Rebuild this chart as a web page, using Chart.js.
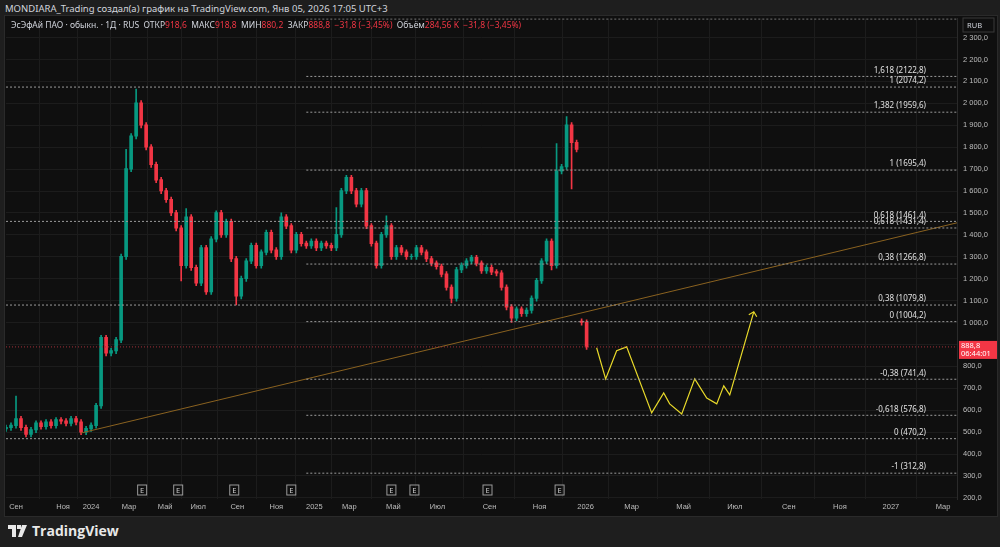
<!DOCTYPE html>
<html>
<head>
<meta charset="utf-8">
<script src="https://cdn.jsdelivr.net/npm/chart.js@4"></script>
<style>
  body { margin: 0; background: #1e1e1e; width: 1000px; height: 547px; overflow: hidden; font-family: "Noto Sans", "DejaVu Sans", sans-serif; }
  #top { position: absolute; left: 5px; top: 2px; font-size: 9.5px; color: #d1d4dc; }
  #pane { position: absolute; left: 4px; top: 15px; width: 992px; height: 500px; background: #0f0f0f; border: 1px solid #2a2a2a; overflow: hidden; }
  #legend { position: absolute; left: 6px; top: 3px; font-size: 8.5px; color: #d1d4dc; z-index: 2; white-space: nowrap; }
  #legend .r { color: #f23645; }
  #wrap { position: absolute; left: 0; top: -8px; width: 992px; height: 508px; }
  #logo { position: absolute; left: 8px; top: 521px; color: #e8e8e8; font-size: 14px; font-weight: bold; font-family: "Open Sans", sans-serif; display: flex; align-items: center; gap: 4px; }
</style>
</head>
<body>
<div id="top">MONDIARA_Trading создал(а) график на TradingView.com, Янв 05, 2026 17:05 UTC+3</div>
<div id="pane">
  <div id="legend">ЭсЭфАй ПАО · обыкн. · 1Д · RUS &nbsp;ОТКР<span class="r">918,6</span> &nbsp;МАКС<span class="r">918,8</span> &nbsp;МИН<span class="r">880,2</span> &nbsp;ЗАКР<span class="r">888,8 &nbsp;−31,8 (−3,45%)</span> &nbsp;Объём<span class="r">284,56 K &nbsp;−31,8 (−3,45%)</span></div>
  <div id="wrap"><canvas id="c"></canvas></div>
</div>
<div id="logo"><svg width="20" height="12" viewBox="0 0 20 12"><path d="M0 0h8v12H4V4H0z M9 0h4v4H9z M14 0h5l-5 12h-4z" fill="#e8e8e8"/></svg>TradingView</div>
<script>
// closes per bar slot (one slot ~ one week)
const closes = [520, 530, 560, 520, 490, 510, 540, 525, 545, 530, 555, 550, 540, 560, 545, 500, 515, 530, 620, 930,
  860, 870, 920, 1300, 1700, 1850, 2000, 1900, 1800, 1720, 1650, 1600, 1560, 1500, 1430, 1260, 1480, 1250, 1180, 1340,
  1140, 1380, 1500, 1400, 1460, 1290, 1120, 1200, 1280, 1350, 1260, 1320, 1410, 1330, 1300, 1480, 1440, 1330, 1400, 1360,
  1350, 1370, 1340, 1360, 1350, 1340, 1400, 1600, 1660, 1600, 1540, 1600, 1440, 1360, 1260, 1400, 1440, 1300, 1340, 1320,
  1300, 1300, 1340, 1320, 1290, 1270, 1255, 1220, 1160, 1110, 1240, 1260, 1280, 1295, 1270, 1236, 1250, 1230, 1225, 1160,
  1070, 1020, 1060, 1040, 1055, 1110, 1190, 1280, 1370, 1260, 1690, 1710, 1900, 1820, 1790, 1000, 889];
const gapOpens = { 0: 515, 115: 1005 };
const highs = { 2: 665, 24: 1790, 26: 2065, 36: 1520, 42: 1510, 55: 1500, 66: 1525, 76: 1487, 110: 1816, 112: 1940 };
const lows = { 35: 1190, 46: 1080, 89: 1090, 101: 1000, 109: 1240, 113: 1610 };

const fibValues = [2385, 2122.8, 2074.2, 1959.6, 1695.4, 1461.4, 1431.4, 1266.8, 1079.8, 1004.2, 741.4, 576.8, 470.2, 312.8];
const fibLabels = ['', '1,618 (2122,8)', '1 (2074,2)', '1,382 (1959,6)', '1 (1695,4)', '0,618 (1461,4)', '0,618 (1431,4)',
  '0,38 (1266,8)', '0,38 (1079,8)', '0 (1004,2)', '-0,38 (741,4)', '-0,618 (576,8)', '0 (470,2)', '-1 (312,8)'];
const fibStart = [60, 60, 0, 60, 60, 0, 60, 60, 0, 60, 60, 60, 0, 60];

const trendX = [15, 190];
const trendY = [496, 1455];
const pathX = [118, 119.8, 122, 124, 129, 131.4, 132.6, 135, 137.6, 140, 142, 143.4, 144.6, 149.4];
const pathY = [885, 743, 871, 889, 588, 679, 629, 583, 743, 656, 629, 711, 670, 1049];

const lastPrice = 888.8;
const priceTicks = [200, 300, 400, 500, 600, 700, 800, 900, 1000, 1100, 1200, 1300, 1400, 1500, 1600, 1700, 1800, 1900, 2000, 2100, 2200, 2300];
const earnings = [27.2, 34.4, 45.6, 57, 77, 81.6, 96.2, 110.6];
const tickPos = [2, 11.4, 17, 24.6, 31.8, 38.4, 46.2, 54, 61.6, 68.6, 77.4, 86.2, 96.6, 106.6, 115.8, 125, 135.4, 145.6, 156.4, 166.6, 176.8, 187.2];
const tickText = ['Сен', 'Ноя', '2024', 'Мар', 'Май', 'Июл', 'Сен', 'Ноя', '2025', 'Мар', 'Май', 'Июл', 'Сен', 'Ноя', '2026', 'Мар', 'Май', 'Июл', 'Сен', 'Ноя', '2027', 'Мар'];

const UP = '#089981', DOWN = '#f23645';
const bodies = [], wicks = [], colors = [];
closes.forEach((c, i) => {
  const o = gapOpens[i] !== undefined ? gapOpens[i] : closes[i - 1];
  const hi = highs[i] !== undefined ? highs[i] : Math.max(o, c) + 12;
  const lo = lows[i] !== undefined ? lows[i] : Math.min(o, c) - 12;
  bodies.push({ x: i, y: [Math.min(o, c), Math.max(o, c) + 2] });
  wicks.push({ x: i, y: [lo, hi] });
  colors.push(c >= o ? UP : DOWN);
});

const datasets = [];
fibValues.forEach((v, i) => {
  datasets.push({ type: 'line', data: [{ x: fibStart[i], y: v }, { x: 190, y: v }], borderColor: '#9a9a9a',
    borderWidth: 1, borderDash: [2, 2], pointRadius: 0 });
});
datasets.push({ type: 'line', data: [{ x: 0, y: lastPrice }, { x: 190, y: lastPrice }], borderColor: '#a3303a',
  borderWidth: 1, borderDash: [1, 2], pointRadius: 0 });
datasets.push({ type: 'line', data: trendX.map((x, i) => ({ x, y: trendY[i] })), borderColor: '#8a6220', borderWidth: 1, pointRadius: 0 });
datasets.push({ type: 'bar', data: wicks, backgroundColor: colors, barThickness: 1, grouped: false });
datasets.push({ type: 'bar', data: bodies, backgroundColor: colors, barThickness: 3, grouped: false });
datasets.push({ type: 'line', data: pathX.map((x, i) => ({ x, y: pathY[i] })), borderColor: '#e8d92a', borderWidth: 1.2, pointRadius: 0 });

const fmt = v => {
  const s = v.toFixed(1).replace('.', ',');
  const [a, b] = s.split(',');
  return a.replace(/\B(?=(\d{3})+(?!\d))/g, ' ') + ',' + b;
};

const overlay = {
  id: 'overlay',
  afterDatasetsDraw(chart) {
    const { ctx, scales: { x, y }, chartArea } = chart;
    ctx.save();
    ctx.font = '8px "Noto Sans", sans-serif';
    ctx.fillStyle = '#e0e0e0';
    ctx.textAlign = 'right';
    ctx.textBaseline = 'bottom';
    fibValues.forEach((v, i) => { if (fibLabels[i]) ctx.fillText(fibLabels[i], 921, y.getPixelForValue(v) - 2); });
    // arrow head on projection
    const n = pathX.length;
    const px = x.getPixelForValue(pathX[n - 1]), py = y.getPixelForValue(pathY[n - 1]);
    ctx.strokeStyle = '#e8d92a';
    ctx.lineWidth = 1.2;
    ctx.beginPath(); ctx.moveTo(px - 5, py + 3); ctx.lineTo(px, py); ctx.lineTo(px + 3, py + 5); ctx.stroke();
    // earnings markers
    ctx.font = '7.5px "Noto Sans", sans-serif';
    ctx.strokeStyle = '#9a9a9a'; ctx.lineWidth = 1;
    ctx.fillStyle = '#cfcfcf'; ctx.textAlign = 'center'; ctx.textBaseline = 'middle';
    earnings.forEach(e => {
      const ex = x.getPixelForValue(e);
      ctx.strokeRect(ex - 4.5, 477, 9, 10);
      ctx.fillText('E', ex, 482.5);
    });
    // last price box
    const ly = y.getPixelForValue(lastPrice);
    ctx.fillStyle = '#f23645';
    ctx.fillRect(chartArea.right + 2, ly - 6, 38, 18);
    ctx.fillStyle = '#fff'; ctx.textAlign = 'left';
    ctx.fillText('888,8', chartArea.right + 4, ly - 1);
    ctx.fillText('06:44:01', chartArea.right + 4, ly + 7);
    // RUB box
    ctx.strokeStyle = '#3a3a3a';
    ctx.strokeRect(chartArea.right + 6, 10, 31, 14);
    ctx.fillStyle = '#d1d4dc';
    ctx.fillText('RUB', chartArea.right + 10, 17.5);
    ctx.restore();
  }
};

new Chart(document.getElementById('c'), {
  type: 'bar',
  data: { datasets },
  plugins: [overlay],
  options: {
    responsive: true, maintainAspectRatio: false, animation: false,
    layout: { padding: { top: 3, left: 1, right: 0, bottom: 0 } },
    plugins: { legend: { display: false }, tooltip: { enabled: false } },
    scales: {
      x: {
        type: 'linear', min: 0, max: 190, offset: false,
        afterBuildTicks: s => { s.ticks = tickPos.map(v => ({ value: v })); },
        afterFit: s => { s.height = 17; },
        ticks: { color: '#bdbdbd', font: { size: 7.5 }, maxRotation: 0, autoSkip: false,
          callback: (v, i) => tickText[i] },
        grid: { color: '#1c1c1c', drawTicks: false }, border: { display: false }
      },
      y: {
        type: 'linear', position: 'right', min: 195, max: 2387,
        afterBuildTicks: s => { s.ticks = priceTicks.map(v => ({ value: v })); },
        afterFit: s => { s.width = 40; },
        ticks: { color: '#bdbdbd', font: { size: 7.5 }, padding: 6, autoSkip: false, callback: v => fmt(v) },
        grid: { color: '#1c1c1c', drawTicks: false }, border: { color: '#2a2a2a' }
      }
    }
  }
});
</script>
</body>
</html>
